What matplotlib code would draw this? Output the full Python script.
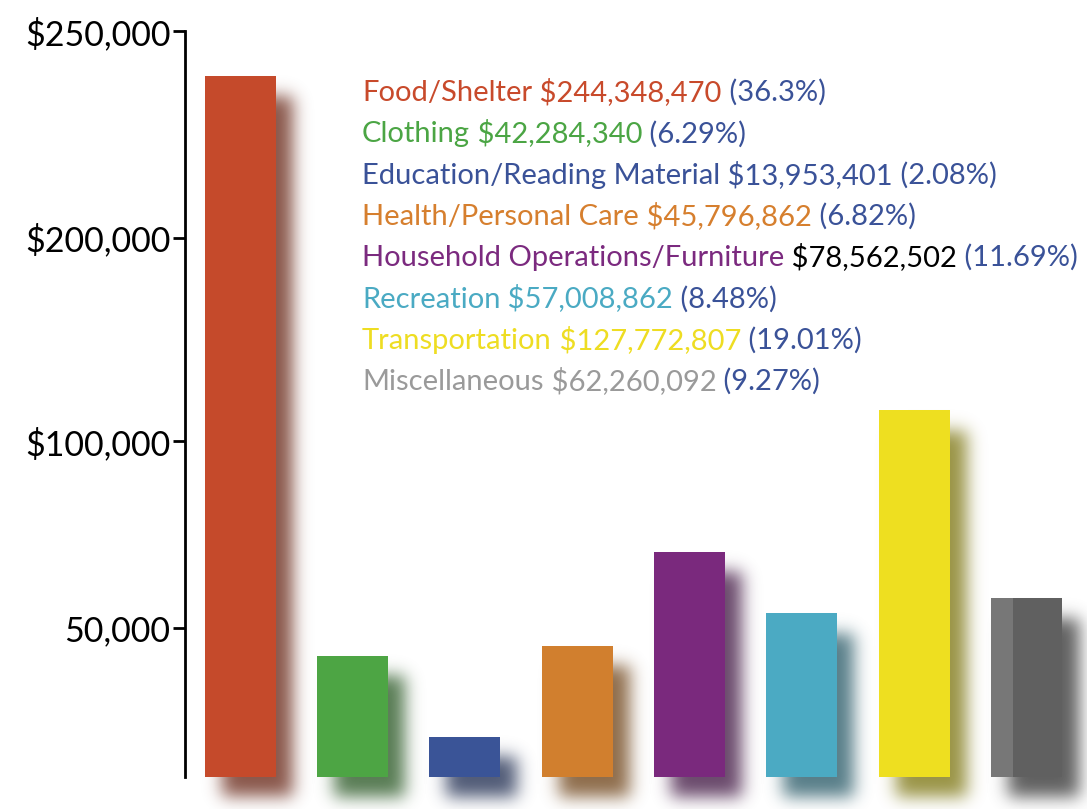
import math
import numpy as np
import matplotlib
matplotlib.use('Agg')
import matplotlib.pyplot as plt
from matplotlib.colors import to_rgb

plt.rcParams['font.family'] = ['Lato', 'DejaVu Sans']

## data
categories = ['Food/Shelter', 'Clothing', 'Education/Reading Material',
              'Health/Personal Care', 'Household Operations/Furniture',
              'Recreation', 'Transportation', 'Miscellaneous']
amounts  = [244348470, 42284340, 13953401, 45796862, 78562502, 57008862, 127772807, 62260092]
percents = ['36.3%', '6.29%', '2.08%', '6.82%', '11.69%', '8.48%', '19.01%', '9.27%']
bar_cols  = ['#c54a2b', '#4da544', '#3a5497', '#d17f2e', '#7a297d', '#4baac3', '#eedf20', '#606060']
text_cols = ['#c84a2b', '#4ba544', '#3a5298', '#d67f2e', '#7b2a7f', '#4aaac3', '#eedd22', '#9a9a9a']
value_cols = text_cols[:4] + ['black'] + text_cols[5:]
pct_col = '#3a5298'

# the axis labels in the picture sit at uneven heights
tick_pos = [52, 117, 188, 260]
tick_lab = ['50,000', '$100,000', '$200,000', '$250,000']

W, H = 1087, 809
fig = plt.figure(figsize=(W / 100, H / 100), dpi=100)
ax = fig.add_axes([185 / W, (H - 777) / H, (W - 185) / W, (777 - 31) / H])

x = np.arange(len(categories))
h = np.array(amounts) / 1e6
bw = 0.632

ax.set_xlim(-0.49, 7.54)
ax.set_ylim(0, 260)

## soft drop shadows (blurred rectangles, offset right and down)
erf = np.vectorize(math.erf)
dx, dy = 0.15, 7.0        # offset in data units
sx, sy = 0.075, 2.9       # blur in data units (~8px)
for i in range(len(x)):
    x0, x1 = x[i] - bw / 2 + dx, x[i] + bw / 2 + dx
    y0, y1 = -dy, h[i] - dy
    gx = np.linspace(x0 - 4 * sx, x1 + 4 * sx, 160)
    gy = np.linspace(y0 - 4 * sy, y1 + 4 * sy, 400)
    ax_ = 0.5 * (erf((gx - x0) / (sx * 1.414)) - erf((gx - x1) / (sx * 1.414)))
    ay_ = 0.5 * (erf((gy - y0) / (sy * 1.414)) - erf((gy - y1) / (sy * 1.414)))
    alpha = np.outer(ay_, ax_) * 0.82
    c = 0.5 * np.array(to_rgb(bar_cols[i])) + 0.05
    img = np.zeros((len(gy), len(gx), 4))
    img[..., :3] = c
    img[..., 3] = alpha
    ax.imshow(img, extent=(gx[0], gx[-1], gy[0], gy[-1]), origin='lower',
              aspect='auto', zorder=1, clip_on=False, interpolation='bilinear')

bars = ax.bar(x, h, width=bw, color=bar_cols, linewidth=0, zorder=3, clip_on=False)
# lighter strip on the left of the last bar
ax.bar(x[-1] - bw / 2 + 0.1, h[-1], width=0.2, color='#777777', linewidth=0,
       zorder=4, clip_on=False)

ax.set_xlim(-0.49, 7.54)
ax.set_ylim(0, 260)
for s in ['top', 'right', 'bottom']:
    ax.spines[s].set_visible(False)
ax.spines['left'].set_linewidth(2)
ax.set_xticks([])
ax.set_yticks(tick_pos)
ax.set_yticklabels(tick_lab, fontsize=24.5)
ax.tick_params(axis='y', length=8.5, width=2, pad=2)

## coloured legend text
y0 = 93
fs = 21
for i in range(len(categories)):
    yy = 1 - (y0 + 41.3 * i) / H
    t = fig.text(362 / W, yy, categories[i], color=text_cols[i], fontsize=fs, va='center')
    t = ax.annotate(' $' + format(amounts[i], ','), xycoords=t, xy=(1, 0), va='bottom',
                    color=value_cols[i], fontsize=fs)
    t = ax.annotate(' (' + percents[i] + ')', xycoords=t, xy=(1, 0), va='bottom',
                    color=pct_col, fontsize=fs)

fig.savefig('out.png', dpi=100)
